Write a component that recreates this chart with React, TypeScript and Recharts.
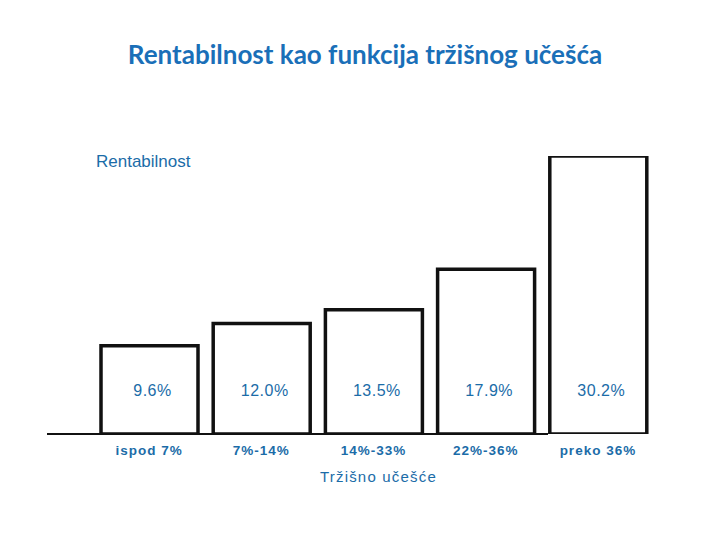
import React from 'react';
import { BarChart, Bar, XAxis, YAxis, LabelList } from 'recharts';

const udeoTrzista = ['ispod 7%', '7%-14%', '14%-33%', '22%-36%', 'preko 36%'];
const rentabilnost = [9.6, 12.0, 13.5, 17.9, 30.2];
const valueLabels = ['9.6%', '12.0%', '13.5%', '17.9%', '30.2%'];

const BLUE = '#1b6ca8';

const data = udeoTrzista.map((name, i) => ({
  name,
  value: rentabilnost[i],
  label: valueLabels[i],
}));

const yMax = Math.max(...rentabilnost);

const ValueLabel = (props: any) => {
  const { x, y, width, height, index } = props;
  return (
    <text
      x={x + width / 2 + 3}
      y={y + height - 44}
      textAnchor="middle"
      dominantBaseline="central"
      fill={BLUE}
      fontSize={16}
      fontFamily="'Liberation Sans', Arial, sans-serif"
      letterSpacing={0.5}
    >
      {valueLabels[index]}
    </text>
  );
};

export default function App() {
  return (
    <div style={{ position: 'absolute', left: 0, top: 0, width: 720, height: 540, background: '#fff' }}>
      <div
        style={{
          position: 'absolute',
          left: 0,
          width: 730,
          top: 38,
          textAlign: 'center',
          fontFamily: 'Lato, sans-serif',
          fontWeight: 700,
          fontSize: 26,
          color: '#1a6fb8',
        }}
      >
        Rentabilnost kao funkcija tržišnog učešća
      </div>
      <div
        style={{
          position: 'absolute',
          left: 96,
          top: 152,
          fontFamily: "'Liberation Sans', Arial, sans-serif",
          fontSize: 17,
          color: BLUE,
        }}
      >
        Rentabilnost
      </div>
      <div style={{ position: 'absolute', left: 47, top: 433, width: 501, height: 2, background: '#111' }} />
      <div style={{ position: 'absolute', left: 0, top: 0 }}>
        <BarChart
          width={720}
          height={540}
          data={data}
          margin={{ top: 156, right: 66, left: 93, bottom: 56 }}
        >
          <XAxis
            dataKey="name"
            axisLine={false}
            tickLine={false}
            height={50}
            interval={0}
            dy={3}
            tick={{ fill: BLUE, fontSize: 13.5, fontWeight: 700, fontFamily: "'Liberation Sans', Arial, sans-serif", letterSpacing: 1 }}
            label={{
              value: 'Tržišno učešće',
              position: 'insideBottom',
              offset: 2,
              dx: 5,
              fill: BLUE,
              fontSize: 15,
              fontFamily: "'Liberation Sans', Arial, sans-serif",
              letterSpacing: 1.2,
            }}
          />
          <YAxis hide domain={[0, yMax]} allowDataOverflow />
          <Bar
            dataKey="value"
            fill="#fff"
            stroke="#111"
            strokeWidth={3.5}
            barSize={97}
            isAnimationActive={false}
          >
            <LabelList dataKey="label" content={<ValueLabel />} />
          </Bar>
        </BarChart>
      </div>
    </div>
  );
}
